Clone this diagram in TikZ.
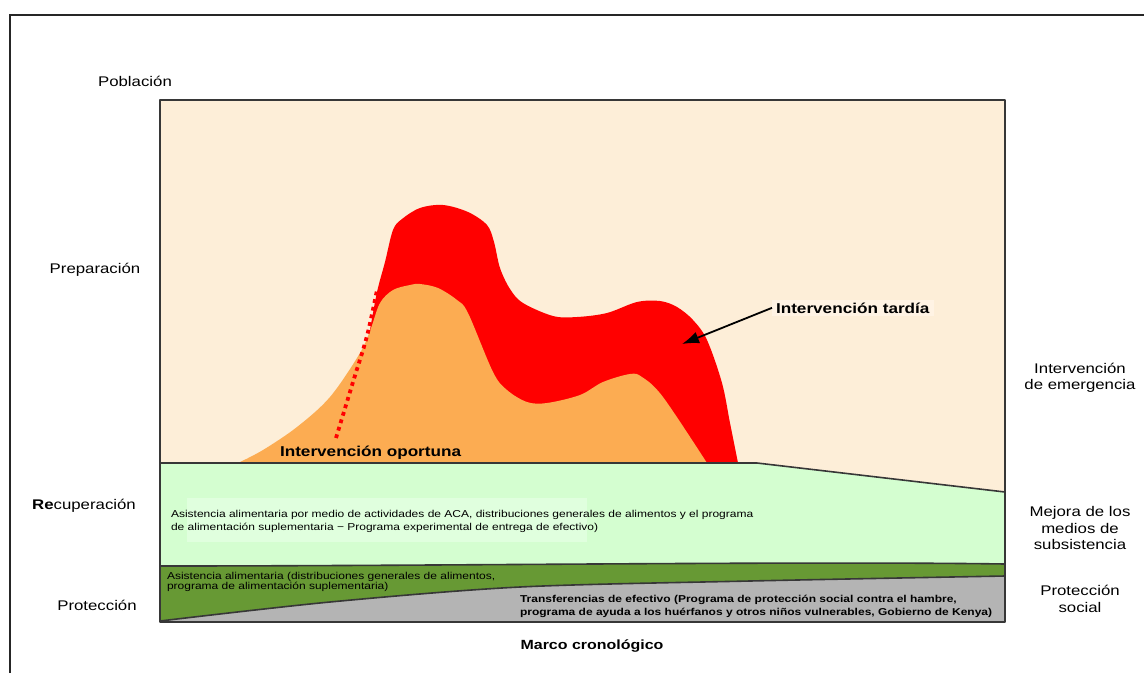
\documentclass[tikz,border=0pt]{standalone}
\usepackage{fontspec}
\setmainfont{Liberation Sans}[FakeStretch=1.2]
\usepackage{xcolor}
\usetikzlibrary{positioning, calc, arrows.meta}

\definecolor{fondo}{RGB}{253,238,216}
\definecolor{fondochiaro}{RGB}{255,243,228}
\definecolor{verdechiaro}{RGB}{212,254,208}
\definecolor{verdetenue}{RGB}{224,255,222}
\definecolor{verdescuro}{RGB}{103,153,52}
\definecolor{grigio}{RGB}{180,180,180}
\definecolor{arancio}{RGB}{252,172,82}
\definecolor{rosso}{RGB}{255,0,0}
\definecolor{bordo}{RGB}{55,55,55}

\begin{document}
\begin{tikzpicture}[x=1pt, y=-1pt,
    every node/.style={inner sep=0pt, outer sep=0pt},
    linea/.style={draw=bordo, line width=1.6pt, line join=round},
    etichetta/.style={font=\fontsize{14}{16.5}\selectfont, align=center},
    grassetto/.style={font=\bfseries\fontsize{14.3}{17}\selectfont},
    nota/.style={font=\fontsize{10}{13.3}\selectfont, align=left, anchor=north west},
    freccia/.style={-{Latex[length=17pt, width=12pt]}, line width=1.8pt}]

  \useasboundingbox (0,0) rectangle (1144,673);

  % Cornice esterna
  \draw[line width=1.8pt, black!85] (10,673) -- (10,15) -- (1144,15);

  % Sfondo del grafico
  \fill[fondo] (160,100) rectangle (1005,622);

  % Intervento tardivo
  \fill[rosso] plot[smooth, tension=0.55] coordinates {(370,330) (377,292) (385,262) (393,230)
      (402,219) (420,208) (443,205) (468,212) (487,225) (494,242) (500,268) (510,289)
      (523,303) (553,316) (577,317) (607,313) (637,302) (660,301) (677,307) (693,320)
      (707,340) (722,383) (730,423) (738,463)} -- (420,463) -- cycle;

  % Intervento tempestivo
  \fill[arancio] plot[smooth, tension=0.55] coordinates {(238,463) (263,450) (297,427)
      (330,397) (360,353) (371,328) (380,303) (393,290) (410,285) (420,284) (438,288)
      (457,300) (468,313) (493,372) (507,390) (527,402) (547,403) (580,395) (603,382)
      (630,374) (642,377) (663,397) (707,463)} -- cycle;
  \draw[rosso, line width=3.8pt, dash pattern=on 3.8pt off 4pt]
    plot[smooth] coordinates {(336,438) (353,382) (367,336) (377,290)};

  % Recupero
  \fill[verdechiaro] (160,463) -- (757,463) -- (1005,492) -- (1005,566) -- (160,566) -- cycle;
  \fill[verdetenue] (187,498) rectangle (587,542);
  \draw[linea] (160,463) -- (757,463) -- (1005,492);

  % Protezione
  \fill[verdescuro] (160,566) .. controls (450,566) and (800,561) .. (1005,564)
    -- (1005,622) -- (160,622) -- cycle;
  \draw[linea] (160,566) .. controls (450,566) and (800,561) .. (1005,564);
  \fill[grigio] plot[smooth] coordinates {(160,621) (330,602) (520,587) (750,581) (1005,576)}
    -- (1005,622) -- cycle;
  \draw[linea] plot[smooth] coordinates {(160,621) (330,602) (520,587) (750,581) (1005,576)};

  % Bordo del grafico
  \draw[linea] (160,100) rectangle (1005,622);

  % Etichette a sinistra
  \node[etichetta] (poblacion) at (135,81) {Población};
  \node[etichetta] (preparacion) at (95,270) {Preparación};
  \node[etichetta] (recuperacion) at (84,506) {\textbf{Re}cuperación};
  \node[etichetta] (proteccion) at (97,605) {Protección};

  % Etichette a destra
  \node[etichetta] (emergencia) at (1080,378) {Intervención\\de emergencia};
  \node[etichetta] (medios) at (1080,528) {Mejora de los\\medios de\\subsistencia};
  \node[etichetta] (social) at (1080,599) {Protección\\social};

  % Testi interni
  \node[grassetto, anchor=base west] (oportuna) at (280,456) {Intervención oportuna};
  \node[grassetto, anchor=base west, fill=fondochiaro, inner xsep=4pt, inner ysep=3pt]
    (tardia) at (772,313) {Intervención tardía};
  \coordinate (punta) at (682,344);
  \draw[freccia] (tardia.west) -- (punta);

  \node[nota] (aca) at (171,510) {Asistencia alimentaria por medio de actividades de ACA, distribuciones generales de alimentos y el programa\\de alimentación suplementaria − Programa experimental de entrega de efectivo)};
  \node[nota, font=\fontsize{10}{10.5}\selectfont] (distribuciones) at (167,572)
    {Asistencia alimentaria (distribuciones generales de alimentos,\\programa de alimentación suplementaria)};
  \node[nota, font=\bfseries\fontsize{10}{13.3}\selectfont] (efectivo) at (520,595)
    {Transferencias de efectivo (Programa de protección social contra el hambre,\\programa de ayuda a los huérfanos y otros niños vulnerables, Gobierno de Kenya)};

  \node[font=\bfseries\fontsize{13.3}{16}\selectfont] (marco) at (592,646) {Marco cronológico};
\end{tikzpicture}
\end{document}
